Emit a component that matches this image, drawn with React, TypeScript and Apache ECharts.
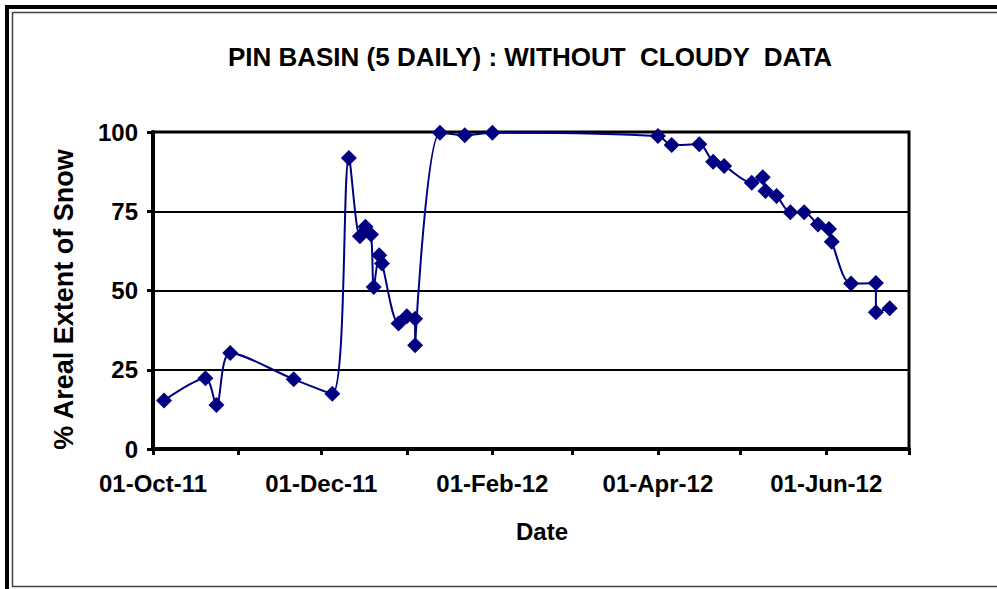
import React, { useEffect, useRef } from "react";
import * as echarts from "echarts";

// Observation dates (5-daily composites) and % areal snow extent
const obsDates = [
  "2011-10-05", "2011-10-20", "2011-10-24", "2011-10-29", "2011-11-21",
  "2011-12-05", "2011-12-11", "2011-12-15", "2011-12-17", "2011-12-19",
  "2011-12-20", "2011-12-22", "2011-12-23", "2011-12-29", "2012-01-01",
  "2012-01-04", "2012-01-04", "2012-01-13", "2012-01-22", "2012-02-01",
  "2012-04-01", "2012-04-06", "2012-04-16", "2012-04-21", "2012-04-25",
  "2012-05-05", "2012-05-09", "2012-05-10", "2012-05-14", "2012-05-19",
  "2012-05-24", "2012-05-29", "2012-06-02", "2012-06-03", "2012-06-10",
  "2012-06-19", "2012-06-19", "2012-06-24",
];
const snowExtent = [
  15.3, 22.3, 13.9, 30.3, 22.0,
  17.4, 91.8, 67.1, 70.1, 67.7,
  51.1, 61.1, 58.5, 39.6, 41.9,
  41.1, 32.7, 99.8, 99.0, 99.8,
  98.7, 95.9, 96.1, 90.6, 89.3,
  84.0, 85.7, 81.4, 79.8, 74.7,
  74.7, 70.8, 69.4, 65.4, 52.2,
  52.4, 43.1, 44.4,
];

// Axis: monthly ticks, labels every two months
const axisStart = "2011-10-01";
const axisEnd = "2012-07-01";
const monthTicks = [
  "2011-10-01", "2011-11-01", "2011-12-01", "2012-01-01", "2012-02-01",
  "2012-03-01", "2012-04-01", "2012-05-01", "2012-06-01", "2012-07-01",
];
const labelTicks = ["2011-10-01", "2011-12-01", "2012-02-01", "2012-04-01", "2012-06-01"];

const MONTHS = ["Jan", "Feb", "Mar", "Apr", "May", "Jun", "Jul", "Aug", "Sep", "Oct", "Nov", "Dec"];

function ts(s: string): number {
  const [y, m, d] = s.split("-").map(Number);
  return Date.UTC(y, m - 1, d);
}
function fmt(v: number): string {
  const d = new Date(v);
  const dd = String(d.getUTCDate()).padStart(2, "0");
  return `${dd}-${MONTHS[d.getUTCMonth()]}-${String(d.getUTCFullYear()).slice(2)}`;
}

const FONT = "'Liberation Sans', Arial, sans-serif";

export default function App() {
  const ref = useRef<HTMLDivElement>(null);

  useEffect(() => {
    document.body.style.margin = "0";
    const chart = echarts.init(ref.current!, null, { renderer: "svg" });
    const data = obsDates.map((d, i) => [ts(d), snowExtent[i]]);
    chart.setOption({
      animation: false,
      backgroundColor: "#ffffff",
      title: {
        text: "PIN BASIN (5 DAILY) : WITHOUT  CLOUDY  DATA",
        left: 530,
        top: 44,
        padding: 0,
        textAlign: "center",
        textStyle: { fontFamily: FONT, fontWeight: "bold", fontSize: 26, color: "#000" },
      },
      grid: {
        left: 153,
        right: 88,
        top: 132,
        bottom: 140,
        show: true,
        borderColor: "#000",
        borderWidth: 3,
        backgroundColor: "transparent",
        outerBoundsMode: "none",
      },
      xAxis: {
        type: "value",
        min: ts(axisStart),
        max: ts(axisEnd),
        name: "Date",
        nameLocation: "middle",
        nameGap: 70,
        nameTextStyle: {
          fontFamily: FONT, fontWeight: "bold", fontSize: 24, color: "#000",
          padding: [0, 0, 0, 22],
        },
        axisLine: { show: true, lineStyle: { color: "#000", width: 4 } },
        axisTick: {
          show: true,
          inside: false,
          length: 6,
          lineStyle: { color: "#000", width: 3 },
          customValues: monthTicks.map(ts),
        },
        axisLabel: {
          show: true,
          margin: 22,
          fontFamily: FONT,
          fontWeight: "bold",
          fontSize: 24,
          color: "#000",
          customValues: labelTicks.map(ts),
          formatter: (v: number) => fmt(v),
        },
        splitLine: { show: false },
      },
      yAxis: {
        type: "value",
        min: 0,
        max: 100,
        interval: 25,
        name: "% Areal Extent of Snow",
        nameLocation: "middle",
        nameGap: 76,
        nameTextStyle: {
          fontFamily: FONT, fontWeight: "bold", fontSize: 27, color: "#000",
          padding: [0, 18, 0, 0],
        },
        axisLine: { show: true, lineStyle: { color: "#000", width: 4 } },
        axisTick: { show: true, inside: false, length: 6, lineStyle: { color: "#000", width: 3 } },
        axisLabel: {
          margin: 15,
          fontFamily: FONT,
          fontWeight: "bold",
          fontSize: 24,
          color: "#000",
        },
        splitLine: { show: true, lineStyle: { color: "#000", width: 2 } },
      },
      series: [
        {
          type: "line",
          data,
          smooth: 0.3,
          symbol: "diamond",
          symbolSize: 16,
          lineStyle: { color: "#000080", width: 2 },
          itemStyle: { color: "#000080", borderWidth: 0 },
          z: 3,
        },
      ],
      graphic: [
        {
          type: "rect",
          shape: { x: 7, y: 7, width: 1200, height: 800 },
          style: { fill: "none", stroke: "#000", lineWidth: 4 },
          silent: true,
        },
        {
          type: "rect",
          shape: { x: 12.5, y: 12.5, width: 1200, height: 574 },
          style: { fill: "none", stroke: "#444", lineWidth: 1.5 },
          silent: true,
        },
      ],
    });
    return () => chart.dispose();
  }, []);

  return (
    <div
      ref={ref}
      style={{ position: "fixed", left: 0, top: 0, width: 997, height: 589, background: "#fff" }}
    />
  );
}
